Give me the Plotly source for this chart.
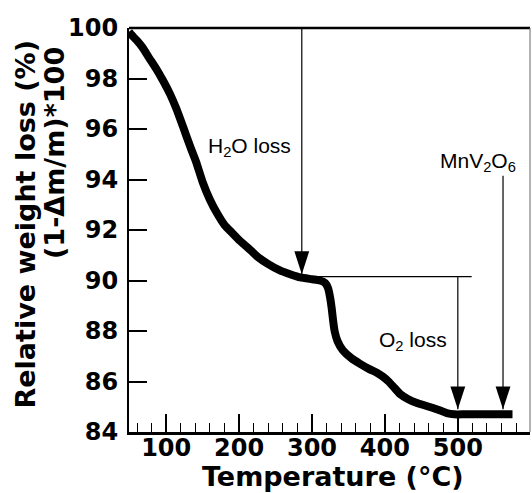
import plotly.graph_objects as go

# Thermogravimetric curve of MnV2O6 precursor: temperature (°C) vs relative weight (%)
temperature = [49, 55, 60, 67, 77, 86, 96, 105, 114, 123, 133, 141, 150, 160, 170,
               180, 190, 200, 212, 225, 240, 256, 270, 284, 300, 311, 318, 322, 325,
               327, 329, 331, 335, 342, 355, 366, 378, 389, 397, 405, 413, 421, 432,
               444, 455, 466, 476, 485, 495, 510, 530, 550, 575]
weight = [99.85, 99.65, 99.5, 99.25, 98.8, 98.4, 97.9, 97.4, 96.8, 96.1, 95.3, 94.7,
          93.9, 93.2, 92.65, 92.2, 91.9, 91.6, 91.3, 90.95, 90.65, 90.4, 90.25, 90.12,
          90.05, 90.0, 89.9, 89.7, 89.3, 88.9, 88.4, 88.0, 87.6, 87.25, 86.9, 86.7,
          86.5, 86.35, 86.2, 86.0, 85.75, 85.5, 85.3, 85.15, 85.05, 84.95, 84.85,
          84.75, 84.7, 84.7, 84.7, 84.7, 84.7]

x_ticks = [100, 200, 300, 400, 500]
y_ticks = [84, 86, 88, 90, 92, 94, 96, 98, 100]

# Arrows: (temperature, start weight, tip weight)
arrow_h2o = (286, 100.0, 90.25)
arrow_o2 = (500, 90.15, 84.9)
arrow_mnv = (562, 94.15, 84.9)
plateau_level = 90.15
plateau_end = 519

labels = [
    ("H<sub>2</sub>O loss", 214, 95.3),
    ("MnV<sub>2</sub>O<sub>6</sub>", 528, 94.7),
    ("O<sub>2</sub> loss", 438, 87.6),
]

bold = dict(family="DejaVu Sans", size=24, color="black", weight="bold")

fig = go.Figure()

# guide lines
for t, w0, w1 in (arrow_h2o, arrow_o2, arrow_mnv):
    fig.add_trace(go.Scatter(x=[t, t], y=[w0, w1], mode="lines",
                             line=dict(color="black", width=1.2),
                             hoverinfo="skip", showlegend=False))
fig.add_trace(go.Scatter(x=[arrow_h2o[0], plateau_end], y=[plateau_level, plateau_level],
                         mode="lines", line=dict(color="black", width=1.2),
                         hoverinfo="skip", showlegend=False))

# TG curve
fig.add_trace(go.Scatter(x=temperature, y=weight, mode="lines",
                         line=dict(color="black", width=8, shape="spline", smoothing=0.5),
                         showlegend=False))

# arrow heads
fig.add_trace(go.Scatter(
    x=[a[0] for a in (arrow_h2o, arrow_o2, arrow_mnv)],
    y=[a[2] for a in (arrow_h2o, arrow_o2, arrow_mnv)],
    mode="markers",
    marker=dict(symbol="arrow", angle=180, size=24, color="black",
                line=dict(width=0)),
    hoverinfo="skip", showlegend=False))

for text, t, w in labels:
    fig.add_annotation(x=t, y=w, text=text, showarrow=False,
                       font=dict(family="Liberation Sans", size=21, color="black"))

# axis titles
fig.add_annotation(x=0, y=1, xref="paper", yref="paper", xanchor="center", yanchor="top",
                   xshift=-104, yshift=-10, textangle=-90, showarrow=False,
                   text="Relative weight loss (%)",
                   font=dict(family="DejaVu Sans", size=27, color="black", weight="bold"))
fig.add_annotation(x=0, y=1, xref="paper", yref="paper", xanchor="center", yanchor="top",
                   xshift=-75, yshift=-17, textangle=-90, showarrow=False,
                   text="(1-Δm/m)*100",
                   font=dict(family="DejaVu Sans", size=27, color="black", weight="bold"))
fig.add_annotation(x=0.509, y=0, xref="paper", yref="paper", xanchor="center", yanchor="middle",
                   yshift=-44, showarrow=False, text="Temperature (°C)",
                   font=dict(family="DejaVu Sans", size=27, color="black", weight="bold"))

# top and right frame
fig.add_shape(type="line", xref="paper", yref="paper", x0=0, x1=1, y0=1, y1=1,
              line=dict(color="black", width=2.5))
fig.add_shape(type="line", xref="paper", yref="paper", x0=1, x1=1, y0=0, y1=1,
              line=dict(color="#666666", width=1))

fig.update_xaxes(range=[49, 599], tickvals=x_ticks, ticks="inside", ticklen=18,
                 tickwidth=1.5, tickcolor="black", showline=True, linewidth=3,
                 linecolor="black", showgrid=False, zeroline=False, tickfont=bold,
                 ticklabelstandoff=-8,
                 minor=dict(dtick=20, tick0=0, ticks="inside", ticklen=9,
                            tickwidth=1.2, tickcolor="black", showgrid=False))
fig.update_yaxes(range=[84, 100], tickvals=y_ticks, ticks="inside", ticklen=18,
                 tickwidth=1.5, tickcolor="black", showline=True, linewidth=2,
                 linecolor="black", showgrid=False, zeroline=False, tickfont=bold,
                 ticklabelstandoff=4)

fig.update_layout(width=532, height=493, margin=dict(l=129, r=2, t=28, b=61),
                  plot_bgcolor="white", paper_bgcolor="white")

fig.write_html("out.html")
